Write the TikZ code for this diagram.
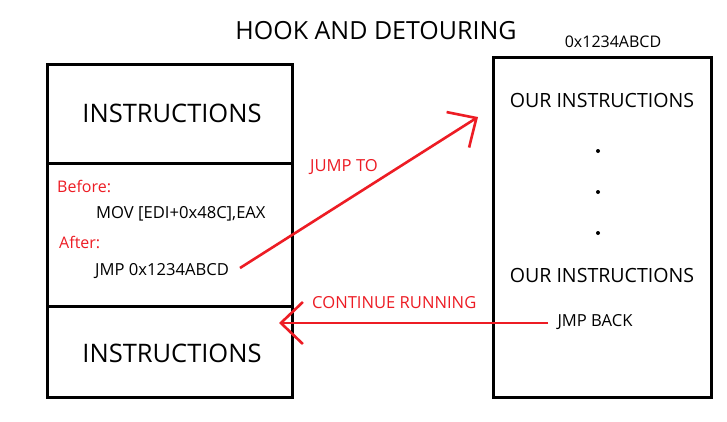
\documentclass[tikz,border=0pt]{standalone}
\usepackage{fontspec}
\setmainfont{Open Sans}
\usetikzlibrary{arrows.meta}
\definecolor{pred}{RGB}{237,28,36}
\tikzset{
  box/.style={draw=black, line width=3pt},
  txt/.style={inner sep=0pt, text=black},
  big/.style={txt, font=\fontsize{25.5}{30}\selectfont},
  mid/.style={txt, font=\fontsize{19.6}{23}\selectfont},
  small/.style={txt, font=\fontsize{16.6}{20}\selectfont},
  redtxt/.style={small, text=pred},
  flow/.style={draw=pred, line width=2.6pt, -{Straight Barb[length=22pt,width=42pt,line width=2.6pt]}},
  dot/.style={circle, fill=black, inner sep=0pt, minimum size=4pt}
}
\begin{document}
\begin{tikzpicture}[x=1pt,y=-1pt]
\useasboundingbox (0,0) rectangle (727,421);
\fill[white] (0,0) rectangle (727,421);
% title
\node[txt, font=\fontsize{25}{30}\selectfont] (title) at (376,31) {HOOK AND DETOURING};
\node[small, font=\fontsize{16}{19}\selectfont] (addr) at (613,42) {0x1234ABCD};
% left box
\draw[box] (47,64) rectangle (292,397);
\draw[box] (47,163) -- (294,163);
\draw[box] (47,306) -- (292,306);
\node[big] (ins1) at (172,113) {INSTRUCTIONS};
\node[big] (ins2) at (172,353) {INSTRUCTIONS};
\node[redtxt, anchor=west, font=\fontsize{16}{19}\selectfont] (before) at (57,186) {Before:};
\node[small, anchor=west] (mov) at (96,214) {MOV [EDI+0x48C],EAX};
\node[redtxt, anchor=west, font=\fontsize{16}{19}\selectfont] (after) at (59,242) {After:};
\node[small, anchor=west] (jmp) at (95,271) {JMP 0x1234ABCD};
% right box
\draw[box] (493,57) rectangle (711,397);
\node[mid] (our1) at (602,100) {OUR INSTRUCTIONS};
\node[dot] (d1) at (598,151) {};
\node[dot] (d2) at (598,192) {};
\node[dot] (d3) at (598,233) {};
\node[mid] (our2) at (602,275) {OUR INSTRUCTIONS};
\node[small] (back) at (595,322) {JMP BACK};
% arrows
\coordinate (js) at (240,268);
\coordinate (je) at (478,117);
\coordinate (bs) at (548,323);
\coordinate (be) at (279,323);
\draw[flow] (js) -- (je);
\draw[flow] (bs) -- (be);
\node[redtxt, anchor=west] (jumpto) at (310,167) {JUMP TO};
\node[redtxt, anchor=west] (cont) at (312,303) {CONTINUE RUNNING};
\end{tikzpicture}
\end{document}
